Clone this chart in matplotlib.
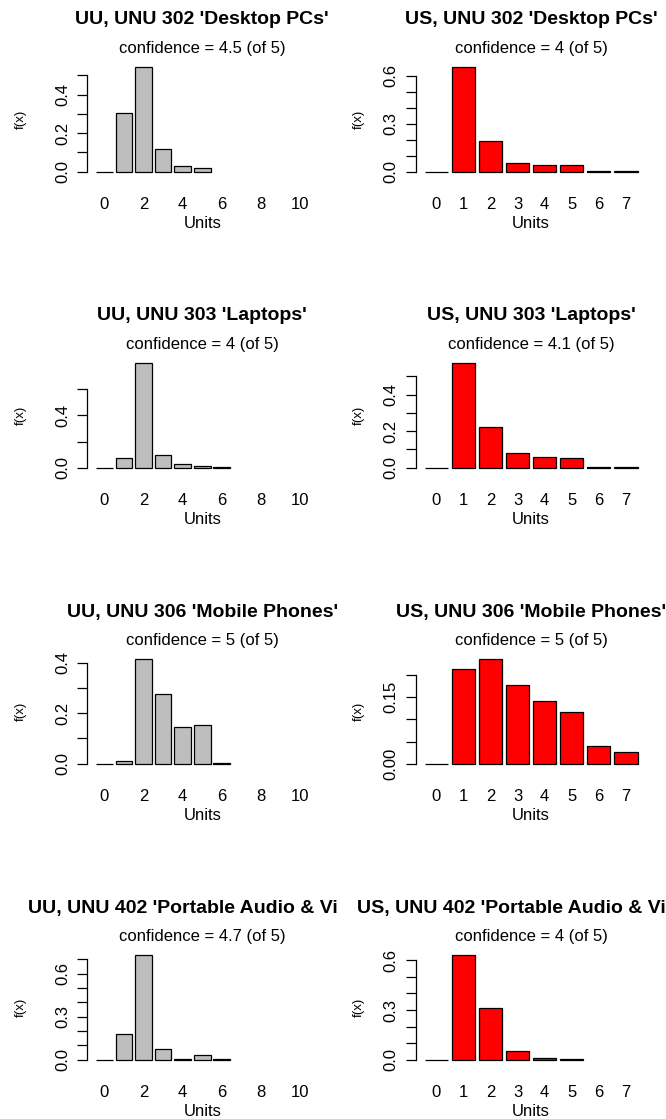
import matplotlib
matplotlib.use("Agg")
import matplotlib.pyplot as plt
from matplotlib.transforms import Bbox

plt.rcParams["font.family"] = ["Liberation Sans", "DejaVu Sans"]

# --- data --------------------------------------------------------------------
titles_uu = ["UU, UNU 302 'Desktop PCs'", "UU, UNU 303 'Laptops'",
             "UU, UNU 306 'Mobile Phones'", "UU, UNU 402 'Portable Audio & Video'"]
titles_us = ["US, UNU 302 'Desktop PCs'", "US, UNU 303 'Laptops'",
             "US, UNU 306 'Mobile Phones'", "US, UNU 402 'Portable Audio & Video'"]
conf_uu = ["4.5", "4", "5", "4.7"]
conf_us = ["4", "4.1", "5", "4"]

uu_302 = [0.0, 0.303, 0.544, 0.116, 0.029, 0.017]
uu_303 = [0.0, 0.077, 0.800, 0.095, 0.026, 0.013, 0.003]
uu_306 = [0.0, 0.009, 0.415, 0.277, 0.146, 0.155, 0.003]
uu_402 = [0.0, 0.179, 0.730, 0.074, 0.002, 0.035, 0.002]

us_302 = [0.0, 0.654, 0.194, 0.056, 0.044, 0.044, 0.004, 0.004]
us_303 = [0.0, 0.573, 0.223, 0.080, 0.058, 0.055, 0.004, 0.004]
us_306 = [0.0, 0.213, 0.236, 0.177, 0.141, 0.116, 0.040, 0.026]
us_402 = [0.0, 0.632, 0.310, 0.054, 0.010, 0.004]

uu_xticks = [0, 2, 4, 6, 8, 10]
us_xticks = [0, 1, 2, 3, 4, 5, 6, 7]

# y ticks + labels (R drops labels that would collide)
yt_uu = [[0, .1, .2, .3, .4, .5], [0, .2, .4, .6],
         [0, .1, .2, .3, .4], [0, .1, .2, .3, .4, .5, .6, .7]]
yl_uu = [["0.0", "", "0.2", "", "0.4", ""], ["0.0", "", "0.4", ""],
         ["0.0", "", "0.2", "", "0.4"], ["0.0", "", "", "0.3", "", "", "0.6", ""]]
yt_us = [[0, .1, .2, .3, .4, .5, .6], [0, .1, .2, .3, .4, .5],
         [0, .05, .10, .15, .20], [0, .1, .2, .3, .4, .5, .6]]
yl_us = [["0.0", "", "", "0.3", "", "", "0.6"], ["0.0", "", "0.2", "", "0.4", ""],
         ["0.00", "", "", "0.15", ""], ["0.0", "", "", "0.3", "", "", "0.6"]]

UU = [uu_302, uu_303, uu_306, uu_402]
US = [us_302, us_303, us_306, us_402]

# --- layout (pixels) ---------------------------------------------------------
W, H = 666, 1119
fig = plt.figure(figsize=(W / 100, H / 100), dpi=100)

ZERO0, ROW = 171.7, 296.0      # zero line of row 1, row pitch
UP, DOWN = 108.9, 4.2          # plot region above / below the zero line
COLS = [
    # spine x, width, xlim, cell left, cell right
    dict(x=87.3, w=229.8, xlim=(-0.87, 10.87), cell=(0, 338)),
    dict(x=415.7, w=230.9, xlim=(-0.76, 7.76), cell=(338, 666)),
]


def panel(col, r, vals, color, xticks, yticks, ylabels, title, conf):
    c = COLS[col]
    z = ZERO0 + ROW * r
    top, bot = z - UP, z + DOWN
    ax = fig.add_axes([c["x"] / W, 1 - bot / H, c["w"] / W, (bot - top) / H])
    m = max(vals)
    ax.bar(range(len(vals)), vals, width=0.85, color=color,
           edgecolor="black", linewidth=0.9)
    ax.set_xlim(*c["xlim"])
    ax.set_ylim(-0.04 * m, 1.04 * m)
    for s in ["top", "right", "bottom"]:
        ax.spines[s].set_visible(False)
    ax.spines["left"].set_bounds(yticks[0], yticks[-1])
    ax.spines["left"].set_linewidth(0.9)
    ax.set_yticks(yticks)
    ax.set_yticklabels(ylabels, rotation=90, va="center", fontsize=12)
    ax.tick_params(axis="y", length=7.2, width=0.9, pad=5)
    ax.set_xticks(xticks)
    ax.set_xticklabels([str(t) for t in xticks], fontsize=12)
    ax.tick_params(axis="x", length=0, pad=15)
    ax.patch.set_visible(False)

    h = bot - top
    ax.text(0.5, -(51.3 - DOWN) / h, "Units", transform=ax.transAxes,
            ha="center", va="center", fontsize=12)
    fx = (c["cell"][0] + 20.7 - c["x"]) / c["w"]
    ax.text(fx, 0.5, "f(x)", transform=ax.transAxes, rotation=90,
            ha="center", va="center", fontsize=9.5)

    cx = (c["x"] + c["w"] / 2) / W
    clip = Bbox.from_extents(c["cell"][0], 0, c["cell"][1], H)
    t = fig.text(cx, 1 - (z - 151.7) / H, title, ha="center", va="center",
                 fontsize=14, fontweight="bold")
    t.set_clip_box(clip)
    t.set_clip_on(True)
    fig.text(cx, 1 - (z - 122.7) / H, f"confidence = {conf} (of 5)",
             ha="center", va="center", fontsize=12)


for r in range(4):
    panel(0, r, UU[r], "#BEBEBE", uu_xticks, yt_uu[r], yl_uu[r],
          titles_uu[r], conf_uu[r])
    panel(1, r, US[r], "#FF0000", us_xticks, yt_us[r], yl_us[r],
          titles_us[r], conf_us[r])

fig.savefig("out.png", dpi=100)
